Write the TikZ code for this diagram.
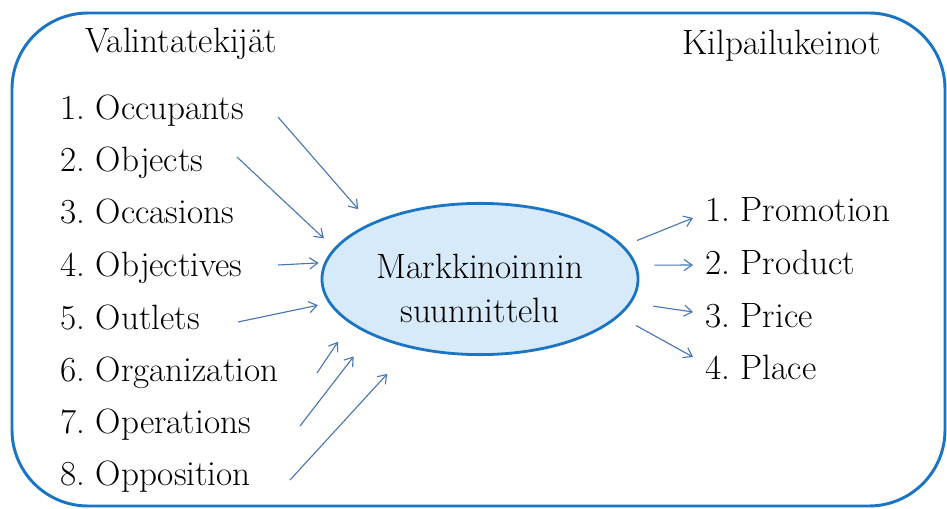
\documentclass[tikz,border=0pt]{standalone}
\usepackage{tikz}
\usetikzlibrary{shapes.geometric, arrows.meta}

\definecolor{framebl}{RGB}{28,117,196}
\definecolor{planfill}{RGB}{214,234,250}
\definecolor{arrowbl}{RGB}{72,118,182}

\frenchspacing

\begin{document}
\begin{tikzpicture}[
    x=0.025cm, y=0.025cm,
    item/.style = {anchor=base west, inner sep=0pt, font=\fontsize{25}{30}\selectfont},
    planbox/.style = {ellipse, draw=framebl, fill=planfill, line width=2pt, inner sep=0pt, minimum width=7.9cm, minimum height=3.78cm},
    plantext/.style = {anchor=base, align=center, inner sep=0pt, font=\fontsize{25}{30.6}\selectfont},
    feed/.style = {-{Straight Barb[length=2mm, width=2.8mm]}, draw=arrowbl, line width=0.8pt}
]
\useasboundingbox (0,0) rectangle (947,508);

% Outer frame
\draw[framebl, line width=2.1pt, rounded corners=1.9cm] (12,2) rectangle (945,495);

% Headings
\node[item] (valinta) at (85,455) {Valintatekijät};
\node[item] (kilpailu) at (682,453) {Kilpailukeinot};

% Central ellipse
\node[planbox] (plan) at (480,229) {};
\node[plantext] (plantxt) at (480,186) {Markkinoinnin\\suunnittelu};

% The eight O's on the left
\node[item] (occ) at (60,388) {1. Occupants};
\node[item] (obj) at (60,336) {2. Objects};
\node[item] (ocs) at (60,284) {3. Occasions};
\node[item] (obv) at (60,232) {4. Objectives};
\node[item] (out) at (60,179) {5. Outlets};
\node[item] (org) at (60,127) {6. Organization};
\node[item] (ops) at (60,75) {7. Operations};
\node[item] (opp) at (60,23) {8. Opposition};

% The four P's on the right
\node[item] (promo) at (705,286) {1. Promotion};
\node[item] (prod) at (705,234) {2. Product};
\node[item] (price) at (705,181) {3. Price};
\node[item] (place) at (705,129) {4. Place};

% Arrow tails next to the left items
\coordinate (occ-t) at (278,391);
\coordinate (obj-t) at (237,351);
\coordinate (obv-t) at (278,243);
\coordinate (out-t) at (238,186);
\coordinate (org-t) at (317,135);
\coordinate (ops-t) at (300,82);
\coordinate (opp-t) at (290,28);

% Arrow heads next to the right items
\coordinate (promo-h) at (693,290);
\coordinate (prod-h) at (693,243);
\coordinate (price-h) at (693,196);
\coordinate (place-h) at (693,151);

% Inputs into the planning
\draw[feed, shorten >=0.46cm] (occ-t) -- (plan.153.9);
\draw[feed, shorten >=0.35cm] (obj-t) -- (plan.168.9);
\draw[feed, shorten >=0.14cm] (obv-t) -- (plan.174.9);
\draw[feed, shorten >=0.27cm] (out-t) -- (plan.189.3);
\draw[feed, shorten >=0.545cm] (org-t) -- (plan.199.1);
\draw[feed, shorten >=0.68cm] (ops-t) -- (plan.207.7);
\draw[feed, shorten >=0.865cm] (opp-t) -- (plan.225.5);

% Outputs to the competitive means
\draw[feed, shorten <=0.355cm] (plan.13.2) -- (promo-h);
\draw[feed, shorten <=0.44cm] (plan.5.1) -- (prod-h);
\draw[feed, shorten <=0.55cm] (plan.351.2) -- (price-h);
\draw[feed, shorten <=0.47cm] (plan.345.4) -- (place-h);

\end{tikzpicture}
\end{document}
